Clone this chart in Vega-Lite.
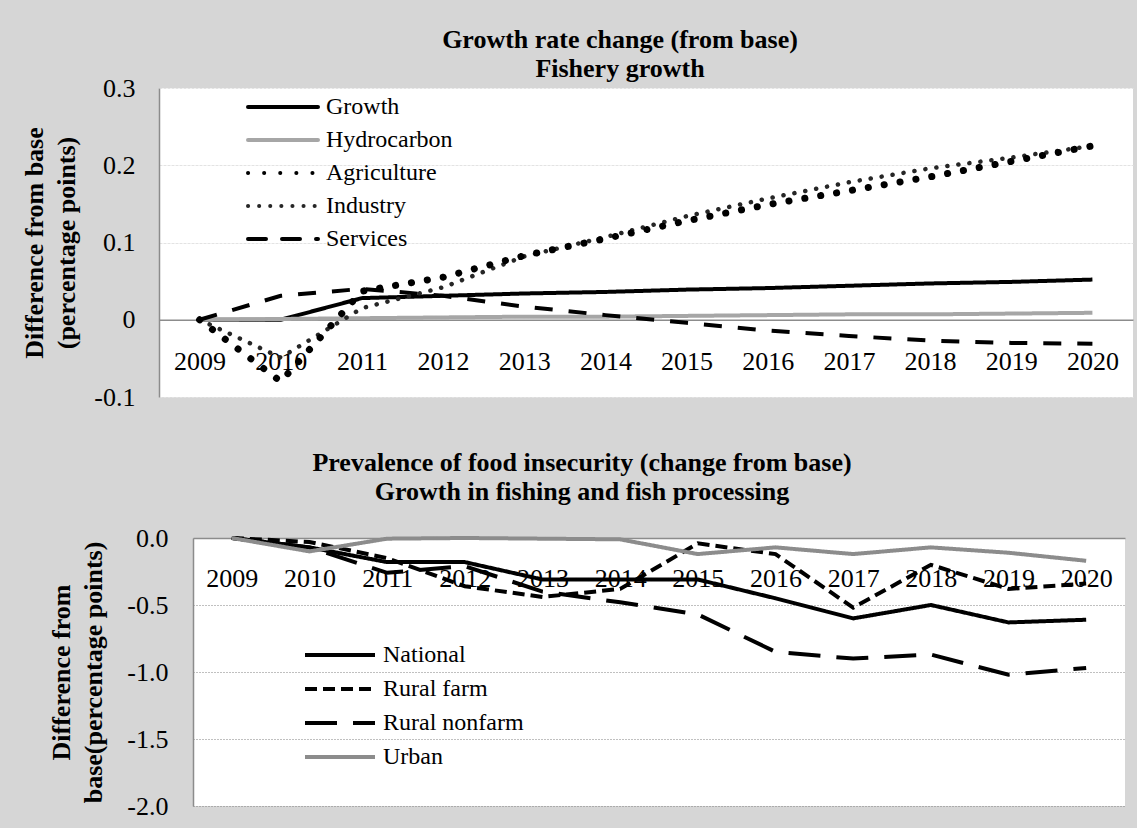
{
  "$schema": "https://vega.github.io/schema/vega-lite/v6.json",
  "background": "#d6d6d6",
  "padding": {"left": 21, "top": 27, "right": 4, "bottom": 12},
  "spacing": 40,
  "resolve": {"scale": {"color": "independent", "strokeDash": "independent"}, "legend": {"color": "independent", "strokeDash": "independent"}},
  "config": {
    "font": "Liberation Serif",
    "view": {"stroke": null, "fill": "white"},
    "axis": {
      "labelFont": "Liberation Serif", "labelFontSize": 26, "labelColor": "black",
      "titleFont": "Liberation Serif", "titleFontSize": 26, "titleFontWeight": "bold", "titleColor": "black",
      "ticks": false, "tickSize": 0, "domainColor": "#8c8c8c", "domainWidth": 1.5
    },
    "legend": {
      "title": null, "labelFont": "Liberation Serif", "labelFontSize": 24, "labelColor": "black",
      "symbolType": "M-6,0H1", "symbolSize": 400, "symbolStrokeWidth": 4
    },
    "title": {"font": "Liberation Serif", "fontSize": 26, "fontWeight": "bold", "color": "black", "lineHeight": 29}
  },
  "datasets": {
    "growth": [
      {"year": 2009, "series": "Growth", "value": 0}, {"year": 2010, "series": "Growth", "value": 0}, {"year": 2011, "series": "Growth", "value": 0.028}, {"year": 2012, "series": "Growth", "value": 0.031}, {"year": 2013, "series": "Growth", "value": 0.034}, {"year": 2014, "series": "Growth", "value": 0.036}, {"year": 2015, "series": "Growth", "value": 0.039}, {"year": 2016, "series": "Growth", "value": 0.041}, {"year": 2017, "series": "Growth", "value": 0.044}, {"year": 2018, "series": "Growth", "value": 0.047}, {"year": 2019, "series": "Growth", "value": 0.049}, {"year": 2020, "series": "Growth", "value": 0.052},
      {"year": 2009, "series": "Hydrocarbon", "value": 0}, {"year": 2010, "series": "Hydrocarbon", "value": 0.001}, {"year": 2011, "series": "Hydrocarbon", "value": 0.002}, {"year": 2012, "series": "Hydrocarbon", "value": 0.003}, {"year": 2013, "series": "Hydrocarbon", "value": 0.004}, {"year": 2014, "series": "Hydrocarbon", "value": 0.004}, {"year": 2015, "series": "Hydrocarbon", "value": 0.005}, {"year": 2016, "series": "Hydrocarbon", "value": 0.006}, {"year": 2017, "series": "Hydrocarbon", "value": 0.007}, {"year": 2018, "series": "Hydrocarbon", "value": 0.007}, {"year": 2019, "series": "Hydrocarbon", "value": 0.008}, {"year": 2020, "series": "Hydrocarbon", "value": 0.009},
      {"year": 2009, "series": "Agriculture", "value": 0}, {"year": 2010, "series": "Agriculture", "value": -0.08}, {"year": 2011, "series": "Agriculture", "value": 0.037}, {"year": 2012, "series": "Agriculture", "value": 0.055}, {"year": 2013, "series": "Agriculture", "value": 0.083}, {"year": 2014, "series": "Agriculture", "value": 0.105}, {"year": 2015, "series": "Agriculture", "value": 0.128}, {"year": 2016, "series": "Agriculture", "value": 0.149}, {"year": 2017, "series": "Agriculture", "value": 0.167}, {"year": 2018, "series": "Agriculture", "value": 0.185}, {"year": 2019, "series": "Agriculture", "value": 0.205}, {"year": 2020, "series": "Agriculture", "value": 0.225},
      {"year": 2009, "series": "Industry", "value": 0}, {"year": 2010, "series": "Industry", "value": -0.049}, {"year": 2011, "series": "Industry", "value": 0.015}, {"year": 2012, "series": "Industry", "value": 0.042}, {"year": 2013, "series": "Industry", "value": 0.082}, {"year": 2014, "series": "Industry", "value": 0.107}, {"year": 2015, "series": "Industry", "value": 0.134}, {"year": 2016, "series": "Industry", "value": 0.157}, {"year": 2017, "series": "Industry", "value": 0.178}, {"year": 2018, "series": "Industry", "value": 0.196}, {"year": 2019, "series": "Industry", "value": 0.21}, {"year": 2020, "series": "Industry", "value": 0.225},
      {"year": 2009, "series": "Services", "value": 0}, {"year": 2010, "series": "Services", "value": 0.031}, {"year": 2011, "series": "Services", "value": 0.04}, {"year": 2012, "series": "Services", "value": 0.031}, {"year": 2013, "series": "Services", "value": 0.017}, {"year": 2014, "series": "Services", "value": 0.006}, {"year": 2015, "series": "Services", "value": -0.004}, {"year": 2016, "series": "Services", "value": -0.014}, {"year": 2017, "series": "Services", "value": -0.021}, {"year": 2018, "series": "Services", "value": -0.027}, {"year": 2019, "series": "Services", "value": -0.03}, {"year": 2020, "series": "Services", "value": -0.031}
    ],
    "food": [
      {"year": 2009, "series": "National", "value": 0}, {"year": 2010, "series": "National", "value": -0.07}, {"year": 2011, "series": "National", "value": -0.18}, {"year": 2012, "series": "National", "value": -0.18}, {"year": 2013, "series": "National", "value": -0.31}, {"year": 2014, "series": "National", "value": -0.31}, {"year": 2015, "series": "National", "value": -0.31}, {"year": 2016, "series": "National", "value": -0.45}, {"year": 2017, "series": "National", "value": -0.6}, {"year": 2018, "series": "National", "value": -0.5}, {"year": 2019, "series": "National", "value": -0.63}, {"year": 2020, "series": "National", "value": -0.61},
      {"year": 2009, "series": "Rural farm", "value": 0}, {"year": 2010, "series": "Rural farm", "value": -0.03}, {"year": 2011, "series": "Rural farm", "value": -0.15}, {"year": 2012, "series": "Rural farm", "value": -0.36}, {"year": 2013, "series": "Rural farm", "value": -0.44}, {"year": 2014, "series": "Rural farm", "value": -0.38}, {"year": 2015, "series": "Rural farm", "value": -0.04}, {"year": 2016, "series": "Rural farm", "value": -0.12}, {"year": 2017, "series": "Rural farm", "value": -0.52}, {"year": 2018, "series": "Rural farm", "value": -0.2}, {"year": 2019, "series": "Rural farm", "value": -0.38}, {"year": 2020, "series": "Rural farm", "value": -0.34},
      {"year": 2009, "series": "Rural nonfarm", "value": 0}, {"year": 2010, "series": "Rural nonfarm", "value": -0.07}, {"year": 2011, "series": "Rural nonfarm", "value": -0.26}, {"year": 2012, "series": "Rural nonfarm", "value": -0.21}, {"year": 2013, "series": "Rural nonfarm", "value": -0.4}, {"year": 2014, "series": "Rural nonfarm", "value": -0.48}, {"year": 2015, "series": "Rural nonfarm", "value": -0.57}, {"year": 2016, "series": "Rural nonfarm", "value": -0.85}, {"year": 2017, "series": "Rural nonfarm", "value": -0.9}, {"year": 2018, "series": "Rural nonfarm", "value": -0.87}, {"year": 2019, "series": "Rural nonfarm", "value": -1.02}, {"year": 2020, "series": "Rural nonfarm", "value": -0.97},
      {"year": 2009, "series": "Urban", "value": 0}, {"year": 2010, "series": "Urban", "value": -0.1}, {"year": 2011, "series": "Urban", "value": -0.005}, {"year": 2012, "series": "Urban", "value": 0}, {"year": 2013, "series": "Urban", "value": -0.005}, {"year": 2014, "series": "Urban", "value": -0.01}, {"year": 2015, "series": "Urban", "value": -0.12}, {"year": 2016, "series": "Urban", "value": -0.07}, {"year": 2017, "series": "Urban", "value": -0.12}, {"year": 2018, "series": "Urban", "value": -0.07}, {"year": 2019, "series": "Urban", "value": -0.11}, {"year": 2020, "series": "Urban", "value": -0.17}
    ]
  },
  "vconcat": [
    {
      "width": 974,
      "height": 309,
      "title": {"text": ["Growth rate change (from base)", "Fishery growth"], "dx": -26, "offset": -7},
      "data": {"name": "growth"},
      "encoding": {
        "x": {
          "field": "year", "type": "ordinal", "scale": {"type": "point", "padding": 0.5},
          "axis": {"title": null, "labelAngle": 0, "offset": -77.25, "labelPadding": 42, "labelBaseline": "middle", "grid": false}
        },
        "y": {
          "field": "value", "type": "quantitative",
          "scale": {"domain": [-0.1, 0.3], "nice": false, "zero": false},
          "axis": {
            "title": ["Difference from base", "(percentage points)"], "titleLineHeight": 32, "titlePadding": 14,
            "values": [-0.1, 0, 0.1, 0.2, 0.3], "labelPadding": 24,
            "labelExpr": "datum.value < 0 ? '-' + format(-datum.value, '~g') : format(datum.value, '~g')",
            "grid": true, "gridColor": "#e3e3e3", "gridDash": [3, 1], "gridWidth": 1
          }
        },
        "color": {
          "field": "series", "type": "nominal",
          "scale": {"domain": ["Growth", "Hydrocarbon", "Agriculture", "Industry", "Services"], "range": ["#000000", "#a6a6a6", "#000000", "#262626", "#000000"]},
          "legend": {"orient": "none", "legendX": 137, "legendY": 7, "labelOffset": 6, "rowPadding": 9, "encode": {"symbols": {"update": {"strokeCap": {"value": "round"}}}}}
        },
        "strokeDash": {
          "field": "series", "type": "nominal",
          "scale": {"domain": ["Growth", "Hydrocarbon", "Agriculture", "Industry", "Services"], "range": [[1, 0], [1, 0], [0.1, 16], [0.1, 11], [18, 16]]}
        }
      },
      "layer": [
        {"transform": [{"filter": "datum.series === 'Growth' || datum.series === 'Hydrocarbon' || datum.series === 'Services'"}], "mark": {"type": "line", "strokeWidth": 4, "strokeCap": "butt"}},
        {"transform": [{"filter": "datum.series === 'Industry'"}], "mark": {"type": "line", "strokeWidth": 4.5, "strokeCap": "round"}},
        {"transform": [{"filter": "datum.series === 'Agriculture'"}], "mark": {"type": "line", "strokeWidth": 7, "strokeCap": "round"}}
      ]
    },
    {
      "spacing": -112,
      "hconcat": [
        {
          "width": 1,
          "height": 268,
          "data": {"values": []},
          "mark": "point",
          "view": {"fill": "transparent", "stroke": null}
        },
        {
          "width": 932,
          "height": 268,
          "title": {"text": ["Prevalence of food insecurity (change from base)", "Growth in fishing and fish processing"], "dx": -77, "offset": 20},
          "data": {"name": "food"},
          "mark": {"type": "line", "strokeWidth": 4},
          "encoding": {
            "x": {
              "field": "year", "type": "ordinal", "scale": {"type": "point", "padding": 0.5},
              "axis": {"title": null, "labelAngle": 0, "offset": -268, "labelPadding": 40, "labelBaseline": "middle", "grid": false}
            },
            "y": {
              "field": "value", "type": "quantitative",
              "scale": {"domain": [-2, 0], "nice": false, "zero": false},
              "axis": {
                "title": ["Difference from", "base(percentage points)"], "titleLineHeight": 32, "titlePadding": 20,
                "values": [-2, -1.5, -1, -0.5, 0], "labelPadding": 25,
                "labelExpr": "datum.value < 0 ? '-' + format(-datum.value, '.1f') : format(datum.value, '.1f')",
                "grid": true, "gridColor": "#808080", "gridDash": [1, 2], "gridWidth": 1
              }
            },
            "color": {
              "field": "series", "type": "nominal",
              "scale": {"domain": ["National", "Rural farm", "Rural nonfarm", "Urban"], "range": ["#000000", "#000000", "#000000", "#8c8c8c"]},
              "legend": {"orient": "none", "legendX": 194, "legendY": 105, "labelOffset": 6, "rowPadding": 10}
            },
            "strokeDash": {
              "field": "series", "type": "nominal",
              "scale": {"domain": ["National", "Rural farm", "Rural nonfarm", "Urban"], "range": [[1, 0], [12, 6], [32, 16], [1, 0]]}
            }
          }
        }
      ]
    }
  ]
}
